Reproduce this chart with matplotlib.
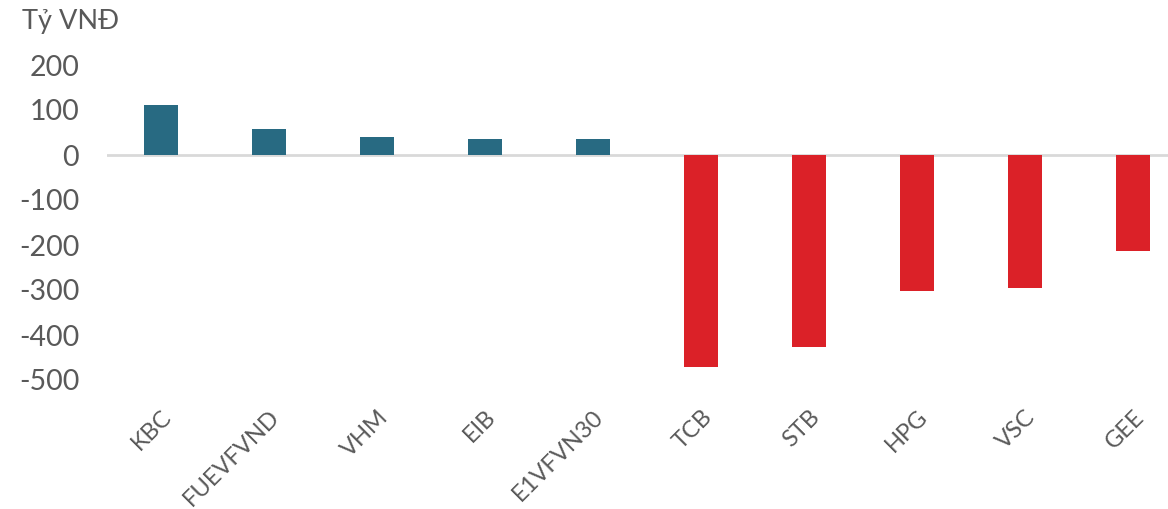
import matplotlib
matplotlib.use('Agg')
import matplotlib.pyplot as plt

plt.rcParams.update({
    'font.family': ['Lato', 'DejaVu Sans'],
    'text.color': '#595959',
    'xtick.color': '#595959',
    'ytick.color': '#595959',
})

# net values, ty VND
tickers = ['KBC', 'FUEVFVND', 'VHM', 'EIB', 'E1VFVN30',
           'TCB', 'STB', 'HPG', 'VSC', 'GEE']
values = [111, 57, 41, 35, 35, -471, -427, -303, -296, -214]
y_ticks = [200, 100, 0, -100, -200, -300, -400, -500]

pos_color = '#286A82'
neg_color = '#DB2128'
colors = [pos_color if v >= 0 else neg_color for v in values]

W, H = 1168, 509
fig = plt.figure(figsize=(W / 100, H / 100), dpi=100)
# axes placed in pixel terms: zero line starts at x=107, 200 at y=65, -500 at y=380
ax = fig.add_axes([107 / W, (H - 380) / H, 1080 / W, 315 / H])

x = list(range(len(tickers)))
ax.bar(x, values, width=0.315, color=colors, zorder=2)
ax.axhline(0, color='#D9D9D9', linewidth=2, zorder=1)

ax.set_xlim(-0.5, 9.5)
ax.set_ylim(-500, 200)
ax.set_yticks(y_ticks)
ax.set_yticklabels([str(v) for v in y_ticks], fontsize=20.5)
ax.set_xticks(x)
ax.set_xticklabels(tickers, rotation=45, ha='right', rotation_mode='anchor', fontsize=17)

ax.tick_params(axis='y', length=0, pad=20)
ax.tick_params(axis='x', length=0, pad=19)
for s in ax.spines.values():
    s.set_visible(False)

fig.text(22 / W, 1 - 22 / H, 'Tỷ VNĐ', fontsize=19.5, va='center', ha='left')

fig.savefig('out.png', dpi=100, facecolor='white')
